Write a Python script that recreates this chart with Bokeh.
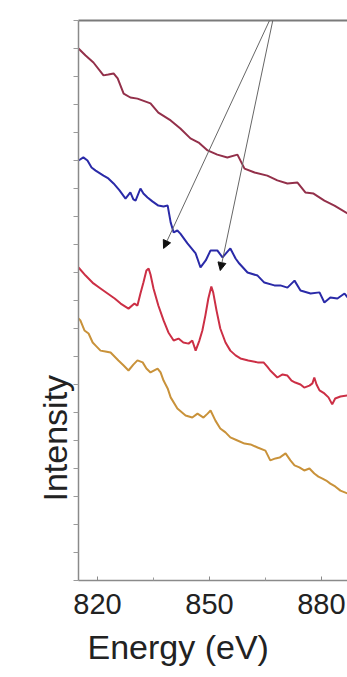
from bokeh.plotting import figure
from bokeh.models import LinearAxis, FixedTicker, Range1d, Title, Arrow, NormalHead
from bokeh.embed import file_html
from bokeh.resources import INLINE

# ---- data ----
energy_a = [814.9, 816.8, 818.9, 821.6, 822.9, 824.3, 825.4, 827.0, 828.8, 830.7, 834.2, 836.3,
            839.6, 842.2, 844.9, 847.1, 849.5, 852.1, 854.8, 857.5, 859.4, 862.1, 865.5, 868.2,
            870.9, 873.6, 875.7, 877.9, 880.8, 883.5, 887.0]
intensity_a = [19.00, 18.75, 18.50, 18.04, 18.07, 18.11, 17.93, 17.39, 17.25, 17.21, 17.04, 16.71,
               16.43, 16.14, 15.79, 15.64, 15.36, 15.21, 15.11, 15.21, 14.71, 14.57, 14.46, 14.29,
               14.18, 14.21, 13.86, 13.82, 13.57, 13.39, 13.11]

energy_b = [814.9, 816.2, 817.3, 818.4, 819.5, 821.6, 822.9, 824.3, 825.9, 827.5, 828.8, 829.6,
            830.2, 831.5, 832.3, 833.4, 834.7, 836.3, 837.7, 838.8, 839.6, 840.4, 841.4, 842.2,
            844.1, 846.3, 847.6, 849.0, 850.3, 852.1, 853.5, 854.6, 855.6, 857.0, 858.0, 860.2,
            862.9, 864.7, 867.4, 869.0, 870.9, 872.8, 874.4, 877.1, 879.5, 880.8, 882.4, 884.3,
            886.2, 887.0]
intensity_b = [15.00, 15.11, 15.00, 14.75, 14.64, 14.46, 14.36, 14.18, 13.93, 13.64, 13.86, 13.61,
               13.57, 14.00, 13.82, 13.68, 13.54, 13.39, 13.36, 13.39, 12.79, 12.43, 12.50, 12.39,
               12.04, 11.68, 11.18, 11.43, 11.79, 11.79, 11.54, 11.71, 11.86, 11.50, 11.32, 11.00,
               10.89, 10.64, 10.54, 10.54, 10.46, 10.71, 10.36, 10.25, 10.29, 9.93, 10.11, 10.07,
               10.25, 10.11]

energy_c = [814.9, 816.8, 818.9, 820.8, 822.7, 824.6, 826.2, 828.3, 829.9, 830.7, 831.5, 832.3,
            833.1, 833.7, 834.2, 835.0, 836.3, 837.7, 839.0, 840.4, 841.7, 843.0, 844.4, 845.4,
            846.3, 847.3, 848.1, 848.9, 849.7, 850.5, 851.0, 851.9, 852.9, 854.3, 855.6, 857.0,
            858.3, 860.4, 862.9, 864.5, 865.5, 866.3, 868.2, 869.6, 870.9, 872.0, 873.0, 874.4,
            875.4, 876.8, 877.6, 878.1, 878.7, 879.5, 880.8, 881.9, 882.9, 883.7, 885.1, 887.0]
intensity_c = [11.18, 10.89, 10.61, 10.43, 10.25, 10.07, 9.89, 9.71, 9.89, 9.82, 10.25, 10.64,
               11.07, 11.14, 10.93, 10.43, 9.82, 9.29, 8.86, 8.57, 8.64, 8.50, 8.46, 8.57,
               8.21, 8.57, 8.93, 9.46, 10.07, 10.50, 10.29, 9.64, 9.00, 8.50, 8.21, 8.04,
               7.93, 7.86, 7.79, 7.79, 7.64, 7.50, 7.25, 7.36, 7.32, 7.14, 7.07, 7.00,
               6.89, 6.96, 7.04, 7.25, 7.00, 6.79, 6.68, 6.54, 6.29, 6.50, 6.57, 6.61]

energy_d = [814.9, 815.4, 816.5, 817.6, 818.7, 819.5, 820.8, 822.1, 823.5, 825.6, 827.0, 828.3,
            829.6, 830.7, 832.1, 833.1, 834.2, 836.1, 836.9, 837.7, 838.8, 839.6, 841.4, 843.6,
            845.4, 846.8, 848.4, 849.5, 850.3, 851.6, 852.9, 854.3, 855.6, 857.5, 859.4, 861.0,
            862.9, 865.0, 866.3, 867.7, 868.8, 870.4, 871.7, 872.8, 874.1, 875.4, 876.8, 878.1,
            879.2, 880.3, 881.3, 882.4, 883.7, 885.1, 887.0]
intensity_d = [9.36, 9.29, 8.93, 8.82, 8.50, 8.39, 8.21, 8.18, 8.14, 7.86, 7.68, 7.50,
               7.71, 7.86, 7.79, 7.57, 7.43, 7.57, 7.43, 7.14, 6.86, 6.54, 6.14, 5.89,
               5.82, 5.96, 5.82, 5.96, 6.07, 5.71, 5.43, 5.29, 5.11, 5.00, 4.89, 4.86,
               4.75, 4.64, 4.29, 4.36, 4.39, 4.54, 4.29, 4.11, 4.04, 3.93, 4.00, 3.82,
               3.71, 3.64, 3.57, 3.46, 3.36, 3.21, 3.11]

x_ticks = [820, 850, 880]
x_minor_ticks = [835, 865]
y_ticks = list(range(0, 21))

# arrow annotation positions (start shared, two ends)
arrow_start = (867.7, 20.46)
arrow_ends = [(837.7, 11.86), (852.9, 11.07)]

# ---- figure ----
p = figure(width=347, height=677, output_backend="svg", toolbar_location=None,
           x_range=Range1d(814.9, 887.0), y_range=Range1d(0, 20),
           x_axis_location=None, y_axis_location=None,
           min_border_left=78, min_border_right=0, min_border_top=20, min_border_bottom=97)
p.grid.visible = False
p.outline_line_color = None
p.background_fill_color = "white"
p.border_fill_color = "white"

font = "Liberation Sans"

# invisible minor-tick extent widens the axis panel, pushing the y title outward
left_axis = LinearAxis(ticker=FixedTicker(ticks=y_ticks),
                       major_label_overrides={t: "" for t in y_ticks},
                       major_tick_out=5, major_tick_in=0, minor_tick_out=27, minor_tick_in=0,
                       minor_tick_line_color=None,
                       axis_line_color="#8a8a8a", axis_line_width=1.5,
                       major_tick_line_color="#9a9a9a", major_label_standoff=0)
p.add_layout(left_axis, "left")

top_axis = LinearAxis(ticker=FixedTicker(ticks=[]), axis_line_color="#7a7a7a", axis_line_width=2,
                      major_tick_out=0, major_tick_in=0, minor_tick_out=0, minor_tick_in=0,
                      major_label_standoff=0)
p.add_layout(top_axis, "above")

bottom_axis = LinearAxis(ticker=FixedTicker(ticks=x_ticks, minor_ticks=x_minor_ticks),
                         major_label_text_font_size="29px", major_label_text_font=font,
                         major_label_text_color="#222222",
                         major_tick_in=4, major_tick_out=0, minor_tick_in=3, minor_tick_out=0,
                         major_tick_line_color="#8a8a8a", minor_tick_line_color="#9a9a9a",
                         axis_line_color="#8a8a8a", axis_line_width=1.5,
                         major_label_standoff=13)
p.add_layout(bottom_axis, "below")

p.line(energy_a, intensity_a, line_color="#93304a", line_width=2)
p.line(energy_b, intensity_b, line_color="#2a2aa8", line_width=2)
p.line(energy_c, intensity_c, line_color="#cc2f45", line_width=2)
p.line(energy_d, intensity_d, line_color="#c9923a", line_width=2)

for ex, ey in arrow_ends:
    p.add_layout(Arrow(x_start=arrow_start[0], y_start=arrow_start[1], x_end=ex, y_end=ey,
                       line_color="#666666", line_width=1,
                       end=NormalHead(size=8, fill_color="#111111", line_color="#111111")))

# axis titles as Title panels (they can be shifted along the axis)
p.add_layout(Title(text="Energy (eV)", align="left", offset=9, standoff=18,
                   text_font=font, text_font_size="34px", text_color="#222222",
                   text_font_style="normal"), "below")
p.add_layout(Title(text="Intensity", align="left", offset=79, standoff=0,
                   text_font=font, text_font_size="34px", text_color="#222222",
                   text_font_style="normal"), "left")

open("out.html", "w").write(file_html(p, INLINE))
